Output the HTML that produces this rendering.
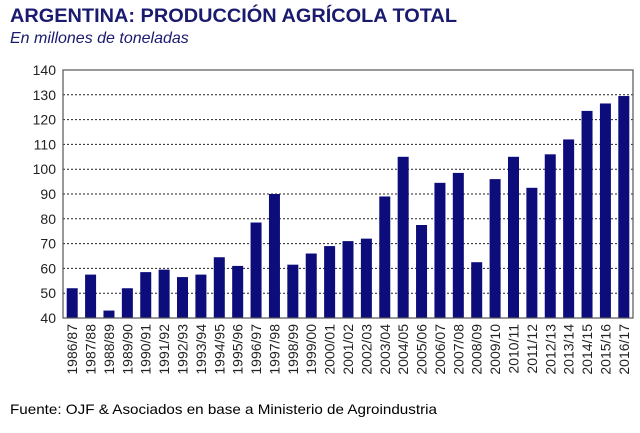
<!DOCTYPE html>
<html><head><meta charset="utf-8"><style>
body{margin:0;background:#fff;width:640px;height:428px;overflow:hidden;font-family:"Liberation Sans",sans-serif}
</style></head><body>
<svg width="640" height="428" xmlns="http://www.w3.org/2000/svg" font-family="Liberation Sans, sans-serif">
<text x="10" y="22" font-size="19" font-weight="bold" fill="#1a1a6e" textLength="447" lengthAdjust="spacingAndGlyphs">ARGENTINA: PRODUCCIÓN AGRÍCOLA TOTAL</text>
<text x="10" y="43" font-size="16" font-style="italic" fill="#1a1a6e">En millones de toneladas</text>
<g id="g"></g>
<text x="10" y="414" font-size="14" fill="#000" textLength="427" lengthAdjust="spacingAndGlyphs">Fuente: OJF &amp; Asociados en base a Ministerio de Agroindustria</text>
</svg>
<script>
var v=[52,57.5,43,52,58.5,59.5,56.5,57.5,64.5,61,78.5,90,61.5,66,69,71,72,89,105,77.5,94.5,98.5,62.5,96,105,92.5,106,112,123.5,126.5,129.5];
var L=63,R=633,T=70,B=318,s="";
function y(x){return B-(x-40)*(B-T)/100;}
for(var k=40;k<=140;k+=10){var yy=y(k);
 if(k>40&&k<140)s+='<line x1="'+L+'" x2="'+R+'" y1="'+yy+'" y2="'+yy+'" stroke="#222" stroke-dasharray="2,2" stroke-width="1"/>';
 s+='<text x="56" y="'+(yy+5)+'" font-size="14" text-anchor="end" fill="#222">'+k+'</text>';}
var w=(R-L)/31;
for(var i=0;i<31;i++){var c=L+w*(i+0.5),yy=y(v[i]);
 s+='<rect x="'+(c-5.5)+'" y="'+yy+'" width="11" height="'+(B-yy)+'" fill="#0c0c7a"/>';
 var a=1986+i,lab=a+'/'+String((a+1)%100).padStart(2,'0');
 s+='<text transform="translate('+(c+5)+',324) rotate(-90)" font-size="14" text-anchor="end" fill="#222">'+lab+'</text>';}
s+='<rect x="'+L+'" y="'+T+'" width="'+(R-L)+'" height="'+(B-T)+'" fill="none" stroke="#555" stroke-width="1.2"/>';
document.getElementById('g').innerHTML=s;
</script>
</body></html>
